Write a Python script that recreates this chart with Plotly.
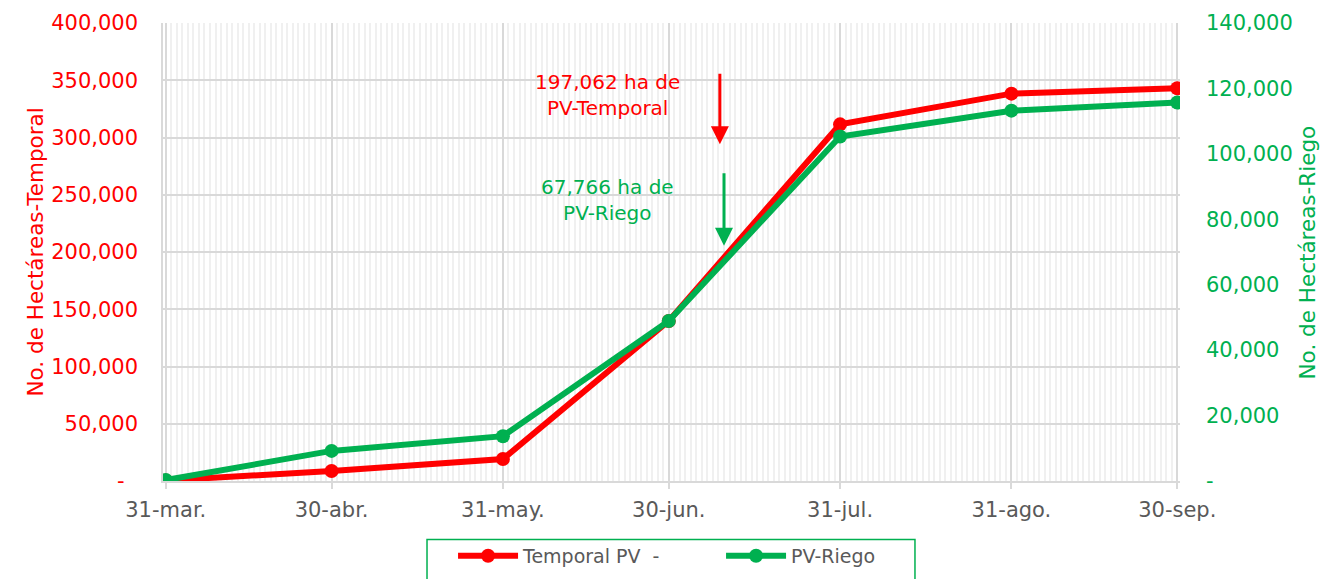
import plotly.graph_objects as go

dates = ["2023-03-31", "2023-04-30", "2023-05-31", "2023-06-30", "2023-07-31", "2023-08-31", "2023-09-30"]
date_labels = ["31-mar.", "30-abr.", "31-may.", "30-jun.", "31-jul.", "31-ago.", "30-sep."]
temporal = [500, 8700, 19200, 139800, 311500, 338300, 343000]
riego = [300, 9200, 13700, 48900, 105300, 113200, 115700]

left_ticks = [0, 50000, 100000, 150000, 200000, 250000, 300000, 350000, 400000]
left_text = ["-\u00a0\u00a0", "50,000", "100,000", "150,000", "200,000", "250,000", "300,000", "350,000", "400,000"]
right_ticks = [0, 20000, 40000, 60000, 80000, 100000, 120000, 140000]
right_text = ["-", "20,000", "40,000", "60,000", "80,000", "100,000", "120,000", "140,000"]

RED = "#ff0000"
GREEN = "#00b050"
GRAY = "#595959"
FONT = "DejaVu Sans"

fig = go.Figure()
fig.add_trace(go.Scatter(x=dates, y=temporal, name="Temporal PV  -", mode="lines+markers",
                         line=dict(color=RED, width=6), marker=dict(size=14, color=RED), yaxis="y"))
fig.add_trace(go.Scatter(x=dates, y=riego, name="PV-Riego", mode="lines+markers",
                         line=dict(color=GREEN, width=6), marker=dict(size=14, color=GREEN), yaxis="y2"))

fig.update_layout(
    width=1333, height=579,
    margin=dict(l=155, r=161, t=15, b=103),
    plot_bgcolor="white", paper_bgcolor="white",
    font=dict(family=FONT, size=19, color=GRAY),
    showlegend=True,
    legend=dict(orientation="h", x=0.2852, xanchor="left", y=-0.122, yanchor="top",
                borderwidth=0, bgcolor="rgba(0,0,0,0)",
                font=dict(family=FONT, size=19, color=GRAY), entrywidth=193,
                itemwidth=60),
    xaxis=dict(type="date", range=["2023-03-30 12:00", "2023-09-30 12:00"], automargin=False,
               tickmode="array", tickvals=dates, ticktext=date_labels,
               tickfont=dict(family=FONT, size=21, color=GRAY),
               showgrid=True, gridcolor="#d9d9d9", gridwidth=1.5,
               ticks="outside", ticklen=6, tickcolor="#d9d9d9", tickwidth=1.5,
               ticklabelstandoff=3,
               showline=True, linecolor="#d9d9d9", linewidth=1.5,
               minor=dict(dtick=86400000, tick0="2023-03-31", showgrid=True,
                          gridcolor="#f0f0f0", gridwidth=2, ticks=""),
               zeroline=False),
    yaxis=dict(range=[0, 400000], tickmode="array", tickvals=left_ticks, ticktext=left_text,
               tickfont=dict(family=FONT, size=21, color=RED), automargin=False,
               showgrid=True, gridcolor="#d9d9d9", gridwidth=1.5,
               showline=True, linecolor="#d9d9d9", linewidth=1.5, zeroline=False,
               ticklabelstandoff=19),
    yaxis2=dict(range=[0, 140000], overlaying="y", side="right", tickmode="array",
                tickvals=right_ticks, ticktext=right_text, automargin=False,
                tickfont=dict(family=FONT, size=21, color=GREEN),
                showgrid=False, zeroline=False, ticklabelstandoff=25),
)

# legend frame
fig.add_shape(type="rect", xref="paper", yref="paper", x0=0.2596, x1=0.7394, y0=-0.2364, y1=-0.128,
              line=dict(color=GREEN, width=1.5), fillcolor="rgba(0,0,0,0)", layer="below")

# axis titles
fig.add_annotation(x=-0.1406, y=0.5, xref="paper", yref="paper", text="No. de Hectáreas-Temporal",
                   textangle=-90, showarrow=False, font=dict(family=FONT, size=21.5, color=RED))
fig.add_annotation(x=1.1396, y=0.5, xref="paper", yref="paper", text="No. de Hectáreas-Riego",
                   textangle=-90, showarrow=False, font=dict(family=FONT, size=21.5, color=GREEN))

fig.add_annotation(x="2023-06-19", y=337500, xref="x", yref="y",
                   text="197,062 ha de<br>PV-Temporal", showarrow=False,
                   font=dict(family=FONT, size=20, color=RED), align="center")
fig.add_annotation(x="2023-06-19", y=245500, xref="x", yref="y",
                   text="67,766 ha de<br>PV-Riego", showarrow=False,
                   font=dict(family=FONT, size=20, color=GREEN), align="center")
fig.add_annotation(x="2023-07-09 06:00", y=294000, xref="x", yref="y", text="",
                   showarrow=True, ax=0, ay=-72, arrowhead=2, arrowsize=1.2,
                   arrowwidth=3, arrowcolor=RED)
fig.add_annotation(x="2023-07-10", y=205500, xref="x", yref="y", text="",
                   showarrow=True, ax=0, ay=-74, arrowhead=2, arrowsize=1.2,
                   arrowwidth=3, arrowcolor=GREEN)

fig.write_html("out.html")
